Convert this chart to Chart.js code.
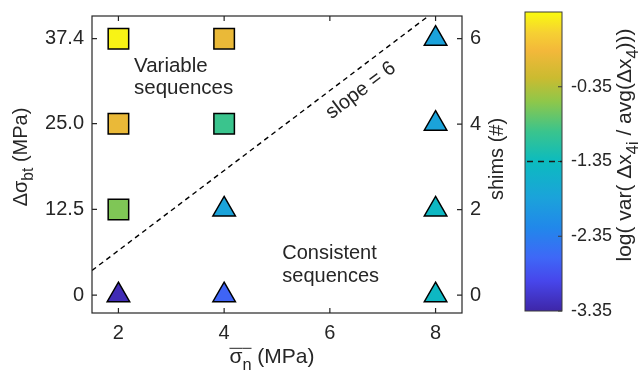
<!DOCTYPE html>
<html>
<head>
<meta charset="utf-8">
<script src="https://cdn.jsdelivr.net/npm/chart.js@4.4.0/dist/chart.umd.min.js"></script>
<style>
  html, body { margin: 0; padding: 0; background: #fff; }
  #wrap { position: relative; width: 641px; height: 379px; }
  #main { position: absolute; left: 0; top: 0; }
  #cbar { position: absolute; left: 520px; top: 0; }
</style>
</head>
<body>
<div id="wrap">
  <canvas id="main" width="520" height="379"></canvas>
  <canvas id="cbar" width="121" height="379"></canvas>
</div>
<script>
// runs shown as squares (variable sequences)
const squareX = [2, 4, 2, 4, 2]
const squareY = [37.4, 37.4, 25.0, 25.0, 12.5]
const squareLogVar = [0.6, 0.05, 0.05, -0.95, -0.62]

// runs shown as triangles (consistent sequences)
const triangleX = [2, 4, 4, 8, 8, 8, 8]
const triangleY = [0, 0, 12.5, 0, 12.5, 25.0, 37.4]
const triangleLogVar = [-3.27, -2.67, -1.83, -1.42, -1.42, -1.83, -1.85]

// dashed "slope = 6" guide
const slopeX = [1.5, 8.5]
const slopeY = [3.6, 44.4]

const xTicks = [2, 4, 6, 8]
const yTicks = [0, 12.5, 25.0, 37.4]
const yTickLabels = ['0', '12.5', '25.0', '37.4']
const shimTicks = [0, 2, 4, 6]
const cbTicks = [-3.35, -2.35, -1.35, -0.35]
const cbRange = [-3.35, 0.65]
const cbThreshold = -1.35

const textColor = '#262626'
const fontFamily = '"Liberation Sans", Arial, Helvetica, sans-serif'
const shimsPerMPa = 6 / 37.4
const yMin = -2.6
const yMax = 40.7

// parula-like colormap
const parulaStops = [
    [0.00, '#3e26a8'],
    [0.10, '#4746eb'],
    [0.18, '#3e68f7'],
    [0.28, '#2188ea'],
    [0.38, '#1ba3da'],
    [0.50, '#0cbbbf'],
    [0.60, '#3ac48d'],
    [0.70, '#8ec74a'],
    [0.78, '#cbbb30'],
    [0.87, '#f3b83a'],
    [0.93, '#f6d033'],
    [1.00, '#f9fb0e'],
]

const hexToRgb = (h) => [1, 3, 5].map((i) => parseInt(h.slice(i, i + 2), 16))

function parula(f) {
    f = Math.max(0, Math.min(1, f))
    for (let i = 1; i < parulaStops.length; i++) {
        const [f1, c1] = parulaStops[i]
        const [f0, c0] = parulaStops[i - 1]
        if (f <= f1) {
            const t = (f - f0) / (f1 - f0)
            const a = hexToRgb(c0)
            const b = hexToRgb(c1)
            const rgb = a.map((v, k) => Math.round(v + (b[k] - v) * t))
            return `rgb(${rgb[0]}, ${rgb[1]}, ${rgb[2]})`
        }
    }
    return parulaStops[parulaStops.length - 1][1]
}

const logVarColor = (v) => parula((v - cbRange[0]) / (cbRange[1] - cbRange[0]))

// draws text made of plain / subscript parts, optionally rotated
function drawRich(ctx, parts, x, y, size, opts = {}) {
    ctx.save()
    ctx.translate(x, y)
    if (opts.rotate) ctx.rotate(opts.rotate)
    ctx.fillStyle = textColor
    ctx.textBaseline = 'alphabetic'
    ctx.textAlign = 'left'
    const fontFor = (p) => `${p.sub ? size * 0.78 : size}px ${fontFamily}`
    let total = 0
    parts.forEach((p) => {
        ctx.font = fontFor(p)
        p.w = ctx.measureText(p.t).width
        total += p.w
    })
    let cx = opts.align === 'left' ? 0 : -total / 2
    parts.forEach((p) => {
        ctx.font = fontFor(p)
        ctx.fillText(p.t, cx, p.sub ? size * 0.32 : 0)
        if (p.over) {
            ctx.strokeStyle = textColor
            ctx.lineWidth = 1
            ctx.beginPath()
            ctx.moveTo(cx, -size * 0.7)
            ctx.lineTo(cx + p.w, -size * 0.7)
            ctx.stroke()
        }
        cx += p.w
    })
    ctx.restore()
}

// keep tick labels from pushing the plot area around
const noLabelPadding = (s) => {
    s.paddingTop = 0
    s.paddingBottom = 0
    s.paddingLeft = 0
    s.paddingRight = 0
}

const framePlugin = {
    id: 'frame',
    afterDraw(chart) {
        const { ctx, chartArea: a, scales } = chart
        const tl = 5
        ctx.save()
        ctx.strokeStyle = textColor
        ctx.lineWidth = 1.2
        ctx.strokeRect(a.left, a.top, a.right - a.left, a.bottom - a.top)
        ctx.beginPath()
        xTicks.forEach((v) => {
            const px = scales.x.getPixelForValue(v)
            ctx.moveTo(px, a.bottom)
            ctx.lineTo(px, a.bottom - tl)
            ctx.moveTo(px, a.top)
            ctx.lineTo(px, a.top + tl)
        })
        yTicks.forEach((v) => {
            const py = scales.y.getPixelForValue(v)
            ctx.moveTo(a.left, py)
            ctx.lineTo(a.left + tl, py)
        })
        shimTicks.forEach((v) => {
            const py = scales.y2.getPixelForValue(v)
            ctx.moveTo(a.right, py)
            ctx.lineTo(a.right - tl, py)
        })
        ctx.stroke()
        ctx.restore()

        // annotations
        const X = (v) => scales.x.getPixelForValue(v)
        const Y = (v) => scales.y.getPixelForValue(v)
        drawRich(ctx, [{ t: 'Variable' }], X(2.295), Y(32.6), 20.5, { align: 'left' })
        drawRich(ctx, [{ t: 'sequences' }], X(2.295), Y(29.3), 20.5, { align: 'left' })
        drawRich(ctx, [{ t: 'Consistent' }], X(5.1), Y(5.3), 20, { align: 'left' })
        drawRich(ctx, [{ t: 'sequences' }], X(5.1), Y(1.9), 20, { align: 'left' })

        const x0 = X(slopeX[0]), y0 = Y(slopeY[0])
        const x1 = X(slopeX[1]), y1 = Y(slopeY[1])
        const ang = Math.atan2(y1 - y0, x1 - x0)
        drawRich(ctx, [{ t: 'slope = 6' }], X(6.65), Y(29.2), 20, { rotate: ang })

        // axis titles
        drawRich(ctx, [{ t: 'Δσ' }, { t: 'bt', sub: true }, { t: ' (MPa)' }], 27, 157, 20, { rotate: -Math.PI / 2 })
        drawRich(ctx, [{ t: 'shims (#)' }], 503, 159, 20, { rotate: -Math.PI / 2 })
        drawRich(ctx, [{ t: 'σ', over: true }, { t: 'n', sub: true, over: true }, { t: ' (MPa)' }], 272, 363, 21)
    },
}

const toPoints = (xs, ys) => xs.map((x, i) => ({ x, y: ys[i] }))

new Chart(document.getElementById('main'), {
    type: 'scatter',
    data: {
        datasets: [
            {
                type: 'line',
                data: toPoints(slopeX, slopeY),
                borderColor: '#000',
                borderWidth: 1.4,
                borderDash: [5, 4],
                pointRadius: 0,
                fill: false,
            },
            {
                data: toPoints(squareX, squareY),
                pointStyle: 'rect',
                pointRadius: 14.5,
                backgroundColor: squareLogVar.map(logVarColor),
                borderColor: '#000',
                borderWidth: 1.5,
            },
            {
                data: toPoints(triangleX, triangleY),
                pointStyle: 'triangle',
                pointRadius: 13,
                backgroundColor: triangleLogVar.map(logVarColor),
                borderColor: '#000',
                borderWidth: 1.5,
            },
        ],
    },
    options: {
        responsive: false,
        animation: false,
        devicePixelRatio: 1,
        layout: { padding: { top: 13, left: 0, right: 0, bottom: 0 } },
        plugins: { legend: { display: false }, tooltip: { enabled: false } },
        scales: {
            x: {
                type: 'linear',
                position: 'bottom',
                min: 1.5,
                max: 8.5,
                afterBuildTicks: (s) => { s.ticks = xTicks.map((v) => ({ value: v })) },
                afterFit: (s) => { s.height = 66; noLabelPadding(s) },
                ticks: { color: textColor, font: { size: 20, family: fontFamily }, padding: 8, maxRotation: 0 },
                grid: { display: false, drawTicks: false },
                border: { display: false },
            },
            y: {
                type: 'linear',
                position: 'left',
                min: yMin,
                max: yMax,
                afterBuildTicks: (s) => { s.ticks = yTicks.map((v) => ({ value: v })) },
                afterFit: (s) => { s.width = 92; noLabelPadding(s) },
                ticks: {
                    color: textColor,
                    font: { size: 20, family: fontFamily },
                    padding: 8,
                    callback: (v) => yTickLabels[yTicks.indexOf(v)],
                },
                grid: { display: false, drawTicks: false },
                border: { display: false },
            },
            y2: {
                type: 'linear',
                position: 'right',
                min: yMin * shimsPerMPa,
                max: yMax * shimsPerMPa,
                afterBuildTicks: (s) => { s.ticks = shimTicks.map((v) => ({ value: v })) },
                afterFit: (s) => { s.width = 58; noLabelPadding(s) },
                ticks: { color: textColor, font: { size: 20, family: fontFamily }, padding: 8 },
                grid: { display: false, drawTicks: false },
                border: { display: false },
            },
        },
    },
    plugins: [framePlugin],
})

// colorbar
const colorbarPlugin = {
    id: 'cbFrame',
    afterDraw(chart) {
        const { ctx, chartArea: a, scales } = chart
        ctx.save()
        ctx.strokeStyle = '#3a3a3a'
        ctx.lineWidth = 1
        ctx.strokeRect(a.left, a.top, a.right - a.left, a.bottom - a.top)
        ctx.beginPath()
        cbTicks.forEach((v) => {
            const py = scales.y.getPixelForValue(v)
            ctx.moveTo(a.right, py)
            ctx.lineTo(a.right - 4, py)
        })
        ctx.stroke()
        const py = scales.y.getPixelForValue(cbThreshold)
        ctx.strokeStyle = '#1a1a1a'
        ctx.lineWidth = 1.3
        ctx.setLineDash([6, 5])
        ctx.beginPath()
        ctx.moveTo(a.left + 2, py)
        ctx.lineTo(a.right, py)
        ctx.stroke()
        ctx.restore()

        drawRich(ctx, [
            { t: 'log( var( Δx' }, { t: '4i', sub: true },
            { t: ' / avg(Δx' }, { t: '4', sub: true }, { t: ')))' },
        ], 111, 145, 21, { rotate: -Math.PI / 2 })
    },
}

new Chart(document.getElementById('cbar'), {
    type: 'bar',
    data: {
        labels: [''],
        datasets: [{
            data: [cbRange],
            barPercentage: 1,
            categoryPercentage: 1,
            borderWidth: 0,
            backgroundColor: (c) => {
                const chart = c.chart
                const ys = chart.scales.y
                if (!chart.chartArea || !ys) return '#888'
                const g = chart.ctx.createLinearGradient(0, ys.getPixelForValue(cbRange[0]), 0, ys.getPixelForValue(cbRange[1]))
                parulaStops.forEach(([f, col]) => g.addColorStop(f, col))
                return g
            },
        }],
    },
    options: {
        responsive: false,
        animation: false,
        devicePixelRatio: 1,
        layout: { padding: { top: 12, left: 5, right: 0, bottom: 68 } },
        plugins: { legend: { display: false }, tooltip: { enabled: false } },
        scales: {
            x: { display: false },
            y: {
                position: 'right',
                min: cbRange[0],
                max: cbRange[1],
                afterBuildTicks: (s) => { s.ticks = cbTicks.map((v) => ({ value: v })) },
                afterFit: (s) => { s.width = 79; noLabelPadding(s) },
                ticks: {
                    color: textColor,
                    font: { size: 18, family: fontFamily },
                    padding: 9,
                    callback: (v) => v.toFixed(2),
                },
                grid: { display: false, drawTicks: false },
                border: { display: false },
            },
        },
    },
    plugins: [colorbarPlugin],
})
</script>
</body>
</html>
